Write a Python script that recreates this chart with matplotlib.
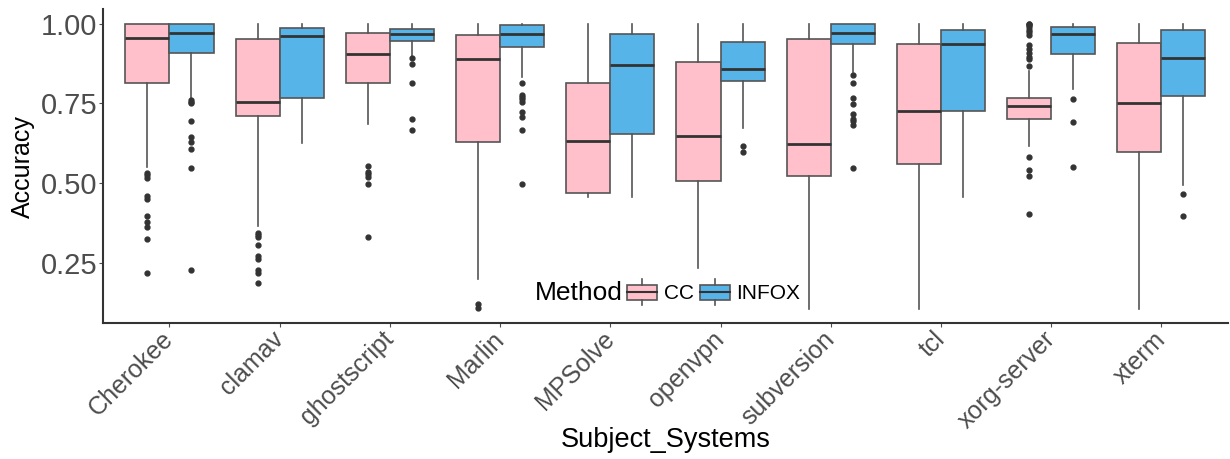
import matplotlib
matplotlib.use("Agg")
import matplotlib.pyplot as plt
from matplotlib.patches import Rectangle
from matplotlib.lines import Line2D
from matplotlib.legend_handler import HandlerBase

plt.rcParams["font.family"] = ["Liberation Sans", "DejaVu Sans"]

systems = ["Cherokee", "clamav", "ghostscript", "Marlin", "MPSolve",
           "openvpn", "subversion", "tcl", "xorg-server", "xterm"]
methods = ["CC", "INFOX"]

# box statistics: (whislo, q1, med, q3, whishi)
cc_stats = [
    (0.552, 0.815, 0.956, 1.000, 1.000),
    (0.367, 0.711, 0.754, 0.951, 1.000),
    (0.686, 0.815, 0.905, 0.970, 1.000),
    (0.200, 0.630, 0.888, 0.963, 1.000),
    (0.459, 0.471, 0.634, 0.814, 1.000),
    (0.235, 0.509, 0.648, 0.879, 1.000),
    (0.107, 0.523, 0.622, 0.951, 1.000),
    (0.107, 0.561, 0.727, 0.935, 1.000),
    (0.617, 0.703, 0.743, 0.766, 0.852),
    (0.107, 0.599, 0.752, 0.940, 1.000),
]
infox_stats = [
    (0.766, 0.908, 0.970, 1.000, 1.000),
    (0.626, 0.768, 0.962, 0.985, 1.000),
    (0.896, 0.946, 0.968, 0.982, 1.000),
    (0.832, 0.928, 0.968, 0.995, 1.000),
    (0.459, 0.655, 0.871, 0.967, 1.000),
    (0.674, 0.820, 0.859, 0.941, 1.000),
    (0.849, 0.937, 0.972, 0.998, 1.000),
    (0.459, 0.727, 0.935, 0.979, 1.000),
    (0.794, 0.904, 0.967, 0.990, 1.000),
    (0.496, 0.774, 0.891, 0.980, 1.000),
]
cc_outliers = [
    [0.534, 0.527, 0.516, 0.461, 0.451, 0.398, 0.378, 0.365, 0.327, 0.221],
    [0.344, 0.338, 0.331, 0.306, 0.273, 0.263, 0.228, 0.221, 0.188],
    [0.553, 0.537, 0.530, 0.521, 0.499, 0.331],
    [0.123, 0.110],
    [],
    [],
    [],
    [],
    [1.000, 0.998, 0.994, 0.988, 0.981, 0.973, 0.964, 0.933, 0.919, 0.907,
     0.896, 0.889, 0.868, 0.582, 0.542, 0.523, 0.403],
    [],
]
infox_outliers = [
    [0.761, 0.756, 0.750, 0.696, 0.646, 0.631, 0.609, 0.547, 0.230],
    [],
    [0.891, 0.874, 0.815, 0.700, 0.666],
    [0.815, 0.777, 0.771, 0.763, 0.756, 0.723, 0.708, 0.666, 0.498],
    [],
    [0.618, 0.598],
    [0.839, 0.815, 0.768, 0.748, 0.716, 0.702, 0.694, 0.684, 0.547],
    [],
    [0.763, 0.693, 0.552],
    [0.466, 0.399],
]

colors = {"CC": "#FFC0CB", "INFOX": "#56B4E9"}
edge = "#555555"


def make_stats(stats, outliers):
    out = []
    for (lo, q1, med, q3, hi), fl in zip(stats, outliers):
        out.append(dict(whislo=lo, q1=q1, med=med, q3=q3, whishi=hi, fliers=fl))
    return out


class BoxKey(HandlerBase):
    # legend key that looks like a little boxplot
    def create_artists(self, legend, orig_handle, xdescent, ydescent,
                       width, height, fontsize, trans):
        cx = width / 2 - xdescent
        y0 = -ydescent + height * 0.1
        h = height * 0.8
        box = Rectangle((-xdescent, y0), width, h, facecolor=orig_handle,
                        edgecolor=edge, linewidth=1.2, transform=trans)
        med = Line2D([-xdescent, width - xdescent], [y0 + h / 2] * 2,
                     color="#333333", linewidth=1.5, transform=trans)
        w_top = Line2D([cx, cx], [y0 + h, -ydescent + height * 1.2],
                       color=edge, linewidth=1.2, transform=trans)
        w_bot = Line2D([cx, cx], [y0, -ydescent - height * 0.2],
                       color=edge, linewidth=1.2, transform=trans)
        return [box, med, w_top, w_bot]


fig = plt.figure(figsize=(12.3, 4.59), dpi=100)
ax = fig.add_axes([0.084, 0.296, 0.914, 0.684])

width = 0.4
for k, (name, stats, outl) in enumerate([("CC", cc_stats, cc_outliers),
                                         ("INFOX", infox_stats, infox_outliers)]):
    pos = [i + 1 + (k - 0.5) * width for i in range(len(systems))]
    ax.bxp(make_stats(stats, outl), positions=pos, widths=width,
           patch_artist=True, showcaps=False,
           boxprops=dict(facecolor=colors[name], edgecolor=edge, linewidth=1.2),
           whiskerprops=dict(color=edge, linewidth=1.2),
           medianprops=dict(color="#333333", linewidth=2.0),
           flierprops=dict(marker="o", markersize=3.5, markerfacecolor="#333333",
                           markeredgecolor="#333333", linestyle="none"),
           manage_ticks=False)

ax.set_xlim(0.4, len(systems) + 0.6)
ax.set_ylim(0.063, 1.045)
ax.set_yticks([0.25, 0.5, 0.75, 1.0])
ax.set_yticklabels(["0.25", "0.50", "0.75", "1.00"], fontsize=21, color="#4D4D4D")
ax.set_xticks(range(1, len(systems) + 1))
ax.set_xticklabels(systems, rotation=45, ha="right", va="center",
                   rotation_mode="anchor", fontsize=18, color="#4D4D4D")
ax.tick_params(axis="both", color="#4D4D4D", length=3, width=0.8)
ax.tick_params(axis="y", pad=1.5)
ax.tick_params(axis="x", pad=6)

for s in ["top", "right"]:
    ax.spines[s].set_visible(False)
for s in ["left", "bottom"]:
    ax.spines[s].set_color("#333333")
    ax.spines[s].set_linewidth(1.5)

ax.set_ylabel("Accuracy", fontsize=18, va="center")
ax.yaxis.set_label_coords(-0.0714, 0.498)
ax.set_xlabel("Subject_Systems", fontsize=19.5, va="center")
ax.xaxis.set_label_coords(0.5, -0.373)

# legend: title on the same row as the keys, inside the panel
ax.text(0.462, 0.0955, "Method", transform=ax.transAxes, ha="right",
        va="center", fontsize=19)
ax.legend([colors[m] for m in methods], methods, handler_map={str: BoxKey()},
          loc="center left", bbox_to_anchor=(0.466, 0.0955), ncol=2,
          frameon=False, fontsize=15, handlelength=1.45, handleheight=1.0,
          handletextpad=0.3, columnspacing=0.3, borderaxespad=0, borderpad=0)

fig.savefig("out.png", dpi=100)
